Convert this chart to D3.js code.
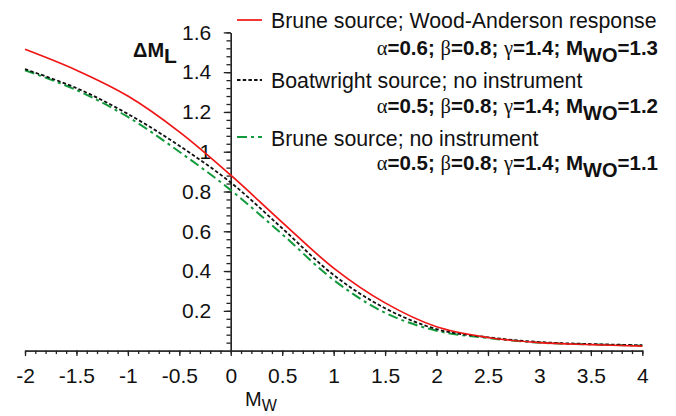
<!DOCTYPE html>
<html>
<head>
<meta charset="utf-8">
<script src="https://cdnjs.cloudflare.com/ajax/libs/d3/7.8.5/d3.min.js"></script>
<style>
  body { margin: 0; background: #fff; }
  svg { display: block; font-family: "Liberation Sans", Arial, sans-serif; }
</style>
</head>
<body>
<div id="chart"></div>
<script>
// magnitude Mw along x
const mw = [-2, -1.5, -1, -0.5, 0, 0.5, 1, 1.5, 2, 2.5, 3, 3.5, 4];
// delta ML curves
const bruneWA      = [1.515, 1.41, 1.28, 1.10, 0.882, 0.645, 0.415, 0.24, 0.12, 0.066, 0.04, 0.03, 0.023];
const boatwrightNI = [1.415, 1.32, 1.19, 1.03, 0.845, 0.615, 0.38, 0.213, 0.108, 0.067, 0.043, 0.033, 0.027];
const bruneNI      = [1.41, 1.31, 1.175, 1.00, 0.807, 0.585, 0.355, 0.19, 0.10, 0.063, 0.04, 0.031, 0.025];

const xTickVals = [-2, -1.5, -1, -0.5, 0, 0.5, 1, 1.5, 2, 2.5, 3, 3.5, 4];
const yTickVals = [0.2, 0.4, 0.6, 0.8, 1, 1.2, 1.4, 1.6];

const legendNames = ["Brune source; Wood-Anderson response", "Boatwright source; no instrument", "Brune source; no instrument"];
const legendAlpha = ["0.6", "0.5", "0.5"];
const legendMwo = ["1.3", "1.2", "1.1"];

const width = 676, height = 416;

const svg = d3.select("#chart").append("svg")
    .attr("width", width)
    .attr("height", height);

const xScale = d3.scaleLinear().domain([-2, 4]).range([25, 642.3]);
const yScale = d3.scaleLinear().domain([0, 1.6]).range([350.6, 32.4]);

const axisColor = "#222";

// x axis, minor ticks every 0.1
const xMinor = d3.axisBottom(xScale)
    .tickValues(d3.range(-20, 41).map(d => d / 10))
    .tickSize(3.5).tickSizeOuter(0).tickFormat("");
svg.append("g")
    .attr("class", "xMinor")
    .attr("transform", "translate(0," + yScale(0) + ")")
    .call(xMinor);

const xAxis = d3.axisBottom(xScale)
    .tickValues(xTickVals)
    .tickSize(5.5).tickSizeOuter(0).tickPadding(12)
    .tickFormat(d => String(d));
svg.append("g")
    .attr("class", "xAxis")
    .attr("transform", "translate(0," + yScale(0) + ")")
    .call(xAxis);

// y axis at Mw = 0, minor ticks every 0.04
const yMinor = d3.axisLeft(yScale)
    .tickValues(d3.range(1, 41).map(d => d * 0.04))
    .tickSize(4.3).tickSizeOuter(0).tickFormat("");
svg.append("g")
    .attr("class", "yMinor")
    .attr("transform", "translate(" + xScale(0) + ",0)")
    .call(yMinor);

const yAxis = d3.axisLeft(yScale)
    .tickValues(yTickVals)
    .tickSize(7).tickSizeOuter(0).tickPadding(12.5)
    .tickFormat(d => String(d));
svg.append("g")
    .attr("class", "yAxis")
    .attr("transform", "translate(" + xScale(0) + ",0)")
    .call(yAxis);

svg.selectAll(".xAxis text, .yAxis text")
    .attr("fill", "#111")
    .style("font-size", "21px")
    .style("font-family", "'Liberation Sans', Arial, sans-serif");
svg.selectAll(".domain, .tick line")
    .attr("stroke", axisColor)
    .attr("stroke-width", 1.3);

// curves
const line = d3.line()
    .x((d, i) => xScale(mw[i]))
    .y(d => yScale(d))
    .curve(d3.curveCatmullRom);

const series = [
    { values: bruneNI, color: "#129a3c", dash: "10,4,3,4", width: 2 },
    { values: boatwrightNI, color: "#111", dash: "3.5,2.2", width: 1.8 },
    { values: bruneWA, color: "#f01414", dash: null, width: 1.7 }
];

series.forEach(s => {
    svg.append("path")
        .datum(s.values)
        .attr("d", line)
        .attr("fill", "none")
        .attr("stroke", s.color)
        .attr("stroke-width", s.width)
        .attr("stroke-dasharray", s.dash);
});

// legend
const legendStyles = [series[2], series[1], series[0]];
const legendY = [20, 80, 137];
const nameBase = [28, 88, 146];
const paramBase = [55, 113, 170];

legendNames.forEach((name, i) => {
    svg.append("line")
        .attr("x1", 237).attr("x2", 262)
        .attr("y1", legendY[i]).attr("y2", legendY[i])
        .attr("stroke", legendStyles[i].color)
        .attr("stroke-width", legendStyles[i].width)
        .attr("stroke-dasharray", legendStyles[i].dash);

    svg.append("text")
        .attr("x", 271)
        .attr("y", nameBase[i])
        .style("font-size", "21.3px")
        .attr("fill", "#111")
        .text(name);

    const t = svg.append("text")
        .attr("x", 658)
        .attr("y", paramBase[i])
        .attr("text-anchor", "end")
        .style("font-size", "20.5px")
        .style("font-weight", "bold")
        .attr("fill", "#111");
    t.append("tspan").style("font-weight", "normal").style("font-family", "'Liberation Serif', serif").text("α");
    t.append("tspan").text("=" + legendAlpha[i] + "; ");
    t.append("tspan").style("font-weight", "normal").style("font-family", "'Liberation Serif', serif").text("β");
    t.append("tspan").text("=0.8; ");
    t.append("tspan").style("font-weight", "normal").style("font-family", "'Liberation Serif', serif").text("γ");
    t.append("tspan").text("=1.4; M");
    t.append("tspan").attr("dy", 7).style("font-size", "20px").text("WO");
    t.append("tspan").attr("dy", -7).text("=" + legendMwo[i]);
});

// axis titles
const yTitle = svg.append("text")
    .attr("x", 133)
    .attr("y", 57)
    .style("font-size", "20px")
    .style("font-weight", "bold")
    .attr("fill", "#111");
yTitle.append("tspan").text("ΔM");
yTitle.append("tspan").attr("dy", 6).style("font-size", "21px").text("L");

const xTitle = svg.append("text")
    .attr("x", 261)
    .attr("y", 406)
    .attr("text-anchor", "middle")
    .style("font-size", "20px")
    .attr("fill", "#111");
xTitle.append("tspan").text("M");
xTitle.append("tspan").attr("dy", 5).style("font-size", "16px").text("W");
</script>
</body>
</html>
